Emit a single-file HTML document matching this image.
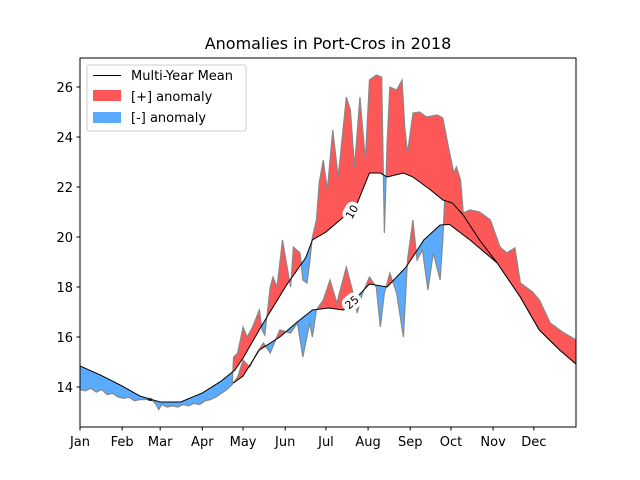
<!DOCTYPE html>
<html><head><meta charset="utf-8"><style>
html,body{margin:0;padding:0;background:#fff;width:640px;height:480px;overflow:hidden}
svg text{font-family:"DejaVu Sans","Liberation Sans",sans-serif;}
</style></head><body>
<svg id="chart" width="640" height="480" viewBox="0 0 640 480">
<rect width="640" height="480" fill="#fff"/>
<text x="328" y="49" text-anchor="middle" font-size="16">Anomalies in Port-Cros in 2018</text>
<defs>
<clipPath id="plotclip"><rect x="80" y="58" width="496" height="369"/></clipPath>
<clipPath id="above10"><path id="a10p"/></clipPath>
<clipPath id="below10"><path id="b10p"/></clipPath>
<clipPath id="above25"><path id="a25p"/></clipPath>
<clipPath id="below25"><path id="b25p"/></clipPath>
</defs>
<g id="marks" clip-path="url(#plotclip)"></g>
<g id="axes"></g>
<g>
<rect x="87" y="65" width="159" height="66" rx="2" fill="#fff" fill-opacity="0.8" stroke="#ccc"/>
<line x1="93" y1="75.5" x2="121" y2="75.5" stroke="#000" stroke-width="1"/>
<text x="131" y="80" font-size="13">Multi-Year Mean</text>
<rect x="93" y="90" width="28" height="11" fill="#fd5757"/>
<text x="131" y="101" font-size="13">[+] anomaly</text>
<rect x="93" y="112" width="28" height="11" fill="#5aabff"/>
<text x="131" y="122" font-size="13">[-] anomaly</text>
</g>
</svg>
<script>
const mean10Days=[0,15,31,44,59,74,90,104,114,120,134,152,166,171,181,194,202,213,221,226,238,245,258,267,274,282,294,307,324,338,353,365];
const mean10Vals=[14.84,14.48,14.04,13.64,13.4,13.4,13.76,14.24,14.68,15.16,16.48,18.08,19.16,19.88,20.2,20.8,21.08,22.56,22.56,22.4,22.56,22.4,21.88,21.48,21.36,20.88,19.88,18.96,17.6,16.28,15.48,14.92];
const mean25Days=[0,15,31,44,59,74,90,104,114,120,132,147,159,171,183,194,204,213,226,240,253,265,272,287,307,324,338,353,365];
const mean25Vals=[14.84,14.44,13.96,13.56,13.38,13.36,13.6,13.96,14.2,14.44,15.48,16.0,16.56,17.08,17.16,17.08,17.6,18.12,18.0,18.8,19.88,20.48,20.5,19.88,18.96,17.6,16.28,15.48,14.92];
const winterDays=[0,4,8,12,16,20,24,28,32,36,40,44,48,52,56,58,60,64,68,72,76,80,84,88,92,96,100,104,108,112];
const winterVals=[13.9,13.85,13.95,13.8,13.9,13.7,13.75,13.6,13.55,13.6,13.45,13.5,13.5,13.55,13.3,13.1,13.3,13.2,13.25,13.2,13.3,13.25,13.35,13.3,13.45,13.5,13.6,13.75,13.9,14.1];
const obs10Days=[113,116,120,123,127,132,134,136,140,142,145,149,155,157,162,164,167,169,171,174,176,179,182,186,190,196,199,202,206,210,213,218,222,224,226,228,233,237,239,241,245,250,255,263,267,272,275,277,280,282,287,294,302,309,314,320,324,333,338,346,355,365];
const obs10Vals=[15.2,15.36,16.4,16.0,16.4,17.08,16.28,16.08,18.0,18.4,18.0,19.88,18.0,19.6,19.36,18.28,18.16,18.96,20.0,20.68,22.16,23.08,21.88,24.28,22.4,25.6,25.08,22.8,25.6,23.08,26.28,26.48,26.4,20.16,23.76,26.0,25.88,26.28,24.4,23.36,24.96,25.0,24.8,24.88,24.76,23.36,22.56,22.8,22.28,20.96,21.08,21.0,20.68,19.6,19.36,19.56,18.16,17.8,17.48,16.56,16.2,15.88];
const obs25Days=[116,120,125,130,135,140,147,155,160,164,169,171,174,179,184,189,196,201,204,208,213,218,221,224,228,233,238,241,245,248,252,256,260,265,267,270];
const obs25Vals=[14.4,15.08,14.8,15.36,15.76,15.36,16.28,16.16,16.56,15.2,16.56,16.0,17.08,17.48,18.28,17.36,18.8,17.76,16.96,17.76,18.4,18.0,16.4,17.76,18.56,17.76,16.0,19.08,20.68,19.08,19.48,17.88,19.36,18.28,19.88,23.6];
const yTicks=[14,16,18,20,22,24,26];
const monthLabels=['Jan','Feb','Mar','Apr','May','Jun','Jul','Aug','Sep','Oct','Nov','Dec'];
const monthStarts=[0,31,59,90,120,151,181,212,243,273,304,334];

const X=d=>80+d*(496/365);
const Y=v=>387-(v-14)*25;
const NS='http://www.w3.org/2000/svg';
function mk(tag,attrs,parent){const e=document.createElementNS(NS,tag);for(const k in attrs)e.setAttribute(k,attrs[k]);parent.appendChild(e);return e;}
function interp(days,vals,d){if(d<=days[0])return vals[0];for(let i=1;i<days.length;i++){if(d<=days[i]){const t=(d-days[i-1])/(days[i]-days[i-1]);return vals[i-1]+t*(vals[i]-vals[i-1]);}}return vals[vals.length-1];}
const obs10D=winterDays.concat(obs10Days), obs10V=winterVals.concat(obs10Vals);
const tail=obs10Days.map((d,i)=>[d,obs10Vals[i]]).filter(p=>p[0]>270);
const obs25D=winterDays.concat(obs25Days,tail.map(p=>p[0])), obs25V=winterVals.concat(obs25Vals,tail.map(p=>p[1]));
function linePts(days,vals){return days.map((d,i)=>X(d).toFixed(2)+','+Y(vals[i]).toFixed(2));}
function meanPts(days,vals){const p=[];for(let d=0;d<=365;d+=0.5)p.push([X(d),Y(interp(days,vals,d))]);return p;}
function setClip(id,pts,edge){let s='M'+X(0)+','+edge+' ';pts.forEach(p=>s+='L'+p[0].toFixed(2)+','+p[1].toFixed(2)+' ');s+='L'+X(365)+','+edge+'Z';document.getElementById(id).setAttribute('d',s);}
const m10=meanPts(mean10Days,mean10Vals), m25=meanPts(mean25Days,mean25Vals);
setClip('a10p',m10,0);setClip('b10p',m10,480);setClip('a25p',m25,0);setClip('b25p',m25,480);
const marks=document.getElementById('marks');
function area(oD,oV,mp){let s='M'+linePts(oD,oV).join(' L');for(let i=mp.length-1;i>=0;i--)s+=' L'+mp[i][0].toFixed(2)+','+mp[i][1].toFixed(2);return s+'Z';}
function series(oD,oV,mp,depth){
 const a=area(oD,oV,mp);
 const r=mk('path',{d:a,fill:'#fd5757','clip-path':'url(#above'+depth+')'},marks);
 
 
 const b=mk('path',{d:a,fill:'#5aabff','clip-path':'url(#below'+depth+')'},marks);
 
 
 const l=mk('polyline',{points:linePts(oD,oV).join(' '),fill:'none',stroke:'#888','stroke-width':1.2},marks);
 
 
 const m=mk('polyline',{points:mp.map(p=>p[0].toFixed(2)+','+p[1].toFixed(2)).join(' '),fill:'none',stroke:'#000','stroke-width':1},marks);
 
 
}
series(obs25D,obs25V,m25,'25');
series(obs10D,obs10V,m10,'10');
function label(txt,day,vals,days,rot){
 const x=X(day),y=Y(interp(days,vals,day));
 const g=mk('g',{transform:'translate('+x+','+y+') rotate('+rot+')'},marks);
 
 
 mk('rect',{x:-10,y:-8,width:20,height:16,rx:7,fill:'#fff'},g);
 const t=mk('text',{x:0,y:4,'font-size':11,'text-anchor':'middle'},g);t.textContent=txt;
}
label('10',200,mean10Vals,mean10Days,-60);
label('25',200,mean25Vals,mean25Days,-40);
const axes=document.getElementById('axes');
const fr=mk('rect',{x:80,y:58,width:496,height:369,fill:'none',stroke:'#000','stroke-width':1},axes);


yTicks.forEach(v=>{
 const tk=mk('line',{x1:76.5,x2:80,y1:Y(v),y2:Y(v),stroke:'#000'},axes);
 
 
 const t=mk('text',{x:73,y:Y(v)+5,'font-size':13,'text-anchor':'end'},axes);t.textContent=v;
 
 
});
monthStarts.forEach((d,i)=>{
 const tk=mk('line',{x1:X(d),x2:X(d),y1:427,y2:430.5,stroke:'#000'},axes);
 
 
 const t=mk('text',{x:X(d),y:446,'font-size':13,'text-anchor':'middle'},axes);t.textContent=monthLabels[i];
 
 
});
</script>
</body></html>
